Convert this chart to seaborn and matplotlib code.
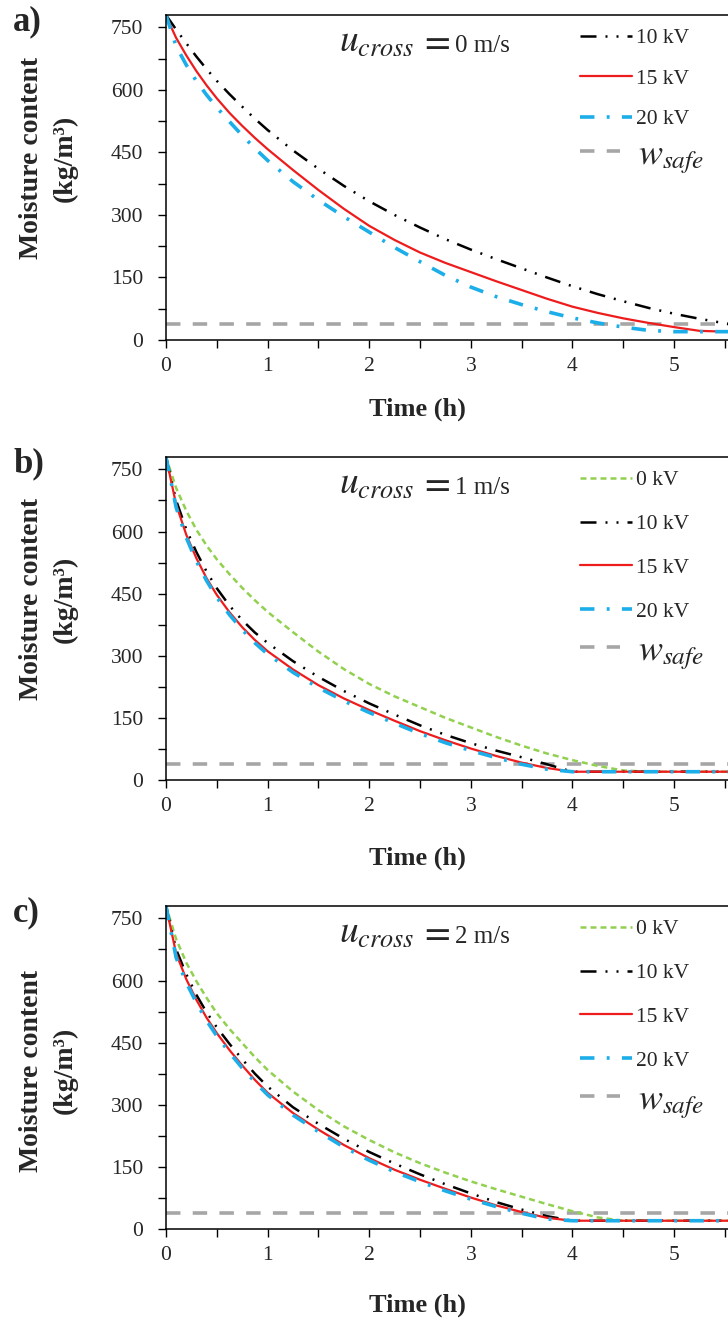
import numpy as np
import pandas as pd
import matplotlib
matplotlib.use("Agg")
import matplotlib.pyplot as plt
from matplotlib.ticker import MultipleLocator
import seaborn as sns

# ---------------- data ----------------
time_h = [0, 0.1, 0.2, 0.3, 0.4, 0.5, 0.625, 0.75, 0.875, 1.0, 1.25, 1.5, 1.75,
          2.0, 2.25, 2.5, 2.75, 3.0, 3.25, 3.5, 3.75, 4.0, 4.25, 4.5, 4.75,
          5.0, 5.25, 5.5, 5.75]

# panel a) u_cross = 0 m/s
a_10kV = [780, 745, 712, 680, 650, 622, 590, 560, 531, 504, 455, 411, 370,
          333, 300, 270, 242, 217, 194, 172, 150, 129, 110, 93, 77,
          63, 51, 40, 30]
a_15kV = [778, 725, 683, 645, 611, 580, 545, 514, 485, 458, 408, 360, 315,
          274, 240, 210, 185, 163, 141, 120, 99, 80, 65, 52, 41,
          31, 22, 20, 20]
a_20kV = [780, 705, 660, 621, 588, 558, 524, 491, 460, 431, 380, 336, 296,
          259, 222, 188, 155, 127, 104, 85, 68, 53, 41, 31, 23,
          20, 20, 20, 20]

# panel b) u_cross = 1 m/s
b_0kV = [780, 705, 650, 604, 566, 533, 497, 464, 434, 406, 357, 310, 268,
         232, 202, 176, 150, 127, 104, 83, 64, 48, 34, 23, 20,
         20, 20, 20, 20]
b_10kV = [780, 675, 605, 550, 503, 463, 421, 386, 356, 331, 287, 249, 215,
          185, 158, 132, 109, 89, 71, 55, 38, 20, 20, 20, 20,
          20, 20, 20, 20]
b_15kV = [780, 665, 592, 535, 487, 447, 405, 369, 338, 311, 267, 229, 197,
          169, 143, 118, 96, 76, 58, 42, 29, 20, 20, 20, 20,
          20, 20, 20, 20]
b_20kV = [780, 658, 585, 528, 481, 441, 399, 363, 331, 304, 260, 223, 191,
          163, 137, 112, 90, 71, 54, 38, 26, 20, 20, 20, 20,
          20, 20, 20, 20]

# panel c) u_cross = 2 m/s
c_0kV = [780, 700, 643, 598, 558, 521, 483, 449, 415, 384, 332, 287, 248,
         215, 185, 159, 136, 115, 96, 78, 60, 43, 28, 20, 20,
         20, 20, 20, 20]
c_10kV = [780, 675, 615, 565, 523, 487, 447, 410, 375, 344, 294, 254, 218,
          186, 158, 132, 108, 86, 65, 47, 31, 20, 20, 20, 20,
          20, 20, 20, 20]
c_15kV = [780, 665, 603, 553, 510, 473, 432, 395, 360, 329, 280, 240, 203,
          171, 143, 119, 97, 76, 57, 41, 27, 20, 20, 20, 20,
          20, 20, 20, 20]
c_20kV = [780, 655, 595, 546, 503, 466, 426, 389, 355, 324, 275, 235, 198,
          166, 138, 114, 92, 72, 54, 38, 24, 20, 20, 20, 20,
          20, 20, 20, 20]

w_safe = 38
u_cross = ["0", "1", "2"]
panel_tags = ["a)", "b)", "c)"]
series_labels = ["0 kV", "10 kV", "15 kV", "20 kV"]

# ---------------- style ----------------
sns.set_style("ticks")
plt.rcParams["font.family"] = ["Liberation Serif", "DejaVu Serif"]
plt.rcParams["mathtext.fontset"] = "stix"

styles = {
    "0 kV":  dict(color="#92D050", lw=1.8, ls=(0, (2.4, 1.6))),
    "10 kV": dict(color="#000000", lw=1.8, ls=(0, (6.4, 3.6, 0.8, 3.6, 0.8, 3.6))),
    "15 kV": dict(color="#EE1C1C", lw=1.6, ls="-"),
    "20 kV": dict(color="#1CAEE8", lw=2.6, ls=(0, (4.0, 3.4, 0.8, 3.4))),
}
safe_style = dict(color="#A6A6A6", lw=2.6, ls=(0, (4.0, 3.4)))

panels = [
    {"0 kV": None, "10 kV": a_10kV, "15 kV": a_15kV, "20 kV": a_20kV},
    {"0 kV": b_0kV, "10 kV": b_10kV, "15 kV": b_15kV, "20 kV": b_20kV},
    {"0 kV": c_0kV, "10 kV": c_10kV, "15 kV": c_15kV, "20 kV": c_20kV},
]

W, H = 728, 1319
fig = plt.figure(figsize=(W / 100, H / 100), dpi=100)

x0_px = 166
px_per_h = 101.6
xmax = (W - x0_px) / px_per_h
frames = [(15, 340), (457, 780), (906, 1229)]
xlabel_gap = [58, 67, 65]        # px from axis line to top of "Time (h)"
ylabel_center = [0.56, 0.56, 0.49]
leg_spacing = [0.95, 1.11, 1.11]
safe_row = [157, 653, 1102]      # y pixel of the w_safe legend row
leg_x = 580
ymax = 780

for i, (top, bot) in enumerate(frames):
    hpx = bot - top
    ax = fig.add_axes([x0_px / W, 1 - bot / H, (W - x0_px) / W, hpx / H])
    handles = []
    for name in series_labels:
        vals = panels[i][name]
        if vals is None:
            continue
        st = styles[name]
        df = pd.DataFrame({"t": time_h, "w": vals})
        sns.lineplot(data=df, x="t", y="w", ax=ax, color=st["color"], lw=st["lw"],
                     linestyle=st["ls"], estimator=None, sort=False, label=name,
                     legend=False)
        handles.append(ax.lines[-1])
    hl = ax.axhline(w_safe, color=safe_style["color"], lw=safe_style["lw"],
                    linestyle=safe_style["ls"], zorder=1)

    ax.set_xlim(0, xmax)
    ax.set_ylim(0, ymax)
    ax.xaxis.set_major_locator(MultipleLocator(1))
    ax.xaxis.set_minor_locator(MultipleLocator(0.5))
    ax.yaxis.set_major_locator(MultipleLocator(150))
    ax.yaxis.set_minor_locator(MultipleLocator(75))
    ax.tick_params(axis="both", which="both", direction="out", length=5.5,
                   width=1.0, color="black")
    ax.tick_params(axis="y", which="major", pad=11, labelsize=15.5)
    ax.tick_params(axis="x", which="major", pad=7, labelsize=15.5)
    for s in ["left", "bottom", "top"]:
        ax.spines[s].set_color("black")
        ax.spines[s].set_linewidth(1.1)
    ax.spines["right"].set_visible(False)

    ax.set_xlabel("Time (h)", fontsize=19, fontweight="bold")
    ax.xaxis.set_label_coords(0.448, -xlabel_gap[i] / hpx)
    ax.set_ylabel("Moisture content\n(kg/m³)", fontsize=20, fontweight="bold",
                  linespacing=1.45)
    ax.yaxis.set_label_coords(-0.157, ylabel_center[i])

    t1 = ax.text(0.308, 0.885, r"$u_{cross}$", transform=ax.transAxes,
                 fontsize=27, va="baseline", ha="left")
    ax.annotate(r"$=$", xy=(1, 0.885), xycoords=(t1, "axes fraction"),
                xytext=(3, 0), textcoords="offset points",
                fontsize=27, va="baseline", ha="left")
    ax.text(0.515, 0.885, u_cross[i] + " m/s", transform=ax.transAxes,
            fontsize=18, va="baseline", ha="left")

    leg = ax.legend(handles, [h.get_label() for h in handles], loc="upper left",
                    bbox_to_anchor=(leg_x / W, 1 - (top + 13) / H),
                    bbox_transform=fig.transFigure, frameon=False,
                    fontsize=15.5, handlelength=2.4, handletextpad=0.2,
                    labelspacing=leg_spacing[i], borderpad=0, borderaxespad=0)
    ax.add_artist(leg)
    ax.legend([hl], [r"$w_{safe}$"], loc="center left",
              bbox_to_anchor=(leg_x / W, 1 - safe_row[i] / H),
              bbox_transform=fig.transFigure, frameon=False,
              fontsize=26, handlelength=1.1, handletextpad=0.5, borderpad=0,
              borderaxespad=0)

    fig.text(13 / W, 1 - (top - 10) / H, panel_tags[i], fontsize=25,
             fontweight="bold", va="top", ha="left")

fig.savefig("out.png", dpi=100)
